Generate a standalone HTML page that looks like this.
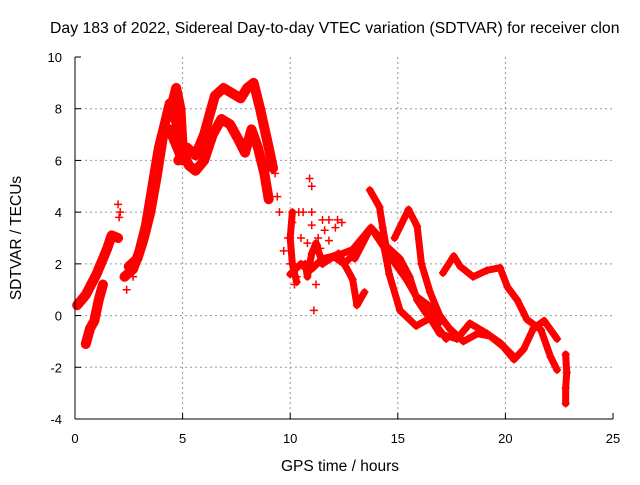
<!DOCTYPE html>
<html><head><meta charset="utf-8"><style>
body{margin:0;background:#fff}
svg text{font-family:"Liberation Sans",sans-serif;fill:#000}
</style></head><body>
<svg id="c" width="640" height="480">
<text x="50" y="33" font-size="15.8">Day 183 of 2022, Sidereal Day-to-day VTEC variation (SDTVAR) for receiver clon</text>
<text transform="translate(21,238) rotate(-90)" text-anchor="middle" font-size="15.5">SDTVAR / TECUs</text>
<text x="340" y="471" text-anchor="middle" font-size="15.5">GPS time / hours</text>
<g id="grid"></g><g id="ticks"></g><g id="marks"></g>
<line x1="75" y1="57" x2="75" y2="419" stroke="#000"/>
<line x1="75" y1="419" x2="613" y2="419" stroke="#000"/>
</svg>
<script>
const xTicks=[0,5,10,15,20,25];
const yTicks=[-4,-2,0,2,4,6,8,10];
const trackA=[[0.1,0.4],[0.5,0.8],[1.0,1.6],[1.3,2.2],[1.5,2.6],[1.7,3.1],[2.0,3.0]];
const trackB=[[0.5,-1.1],[0.7,-0.5],[0.9,-0.2],[1.1,0.6],[1.3,1.2]];
const trackC=[[2.3,1.5],[2.7,1.8],[3.0,2.5],[3.3,3.5],[3.6,5.0],[3.9,6.5],[4.2,7.5],[4.4,8.2],[4.7,7.5],[5.0,6.3],[5.3,5.8],[5.6,5.6],[6.0,6.0],[6.4,7.0],[6.8,7.6],[7.2,7.4],[7.6,6.8],[7.9,6.3],[8.2,7.2],[8.5,6.5],[8.8,5.5],[9.0,4.5]];
const trackD=[[4.8,6.0],[5.2,6.5],[5.6,6.2],[6.0,7.0],[6.5,8.5],[6.9,8.8],[7.3,8.6],[7.7,8.4],[8.0,8.8],[8.3,9.0],[8.6,8.0],[9.0,6.5],[9.2,5.7]];
const trackE=[[4.4,7.8],[4.7,8.8],[4.9,8.0],[5.0,6.5]];
const trackN=[[2.5,1.9],[2.9,2.2],[3.2,3.0],[3.5,4.0],[3.8,5.4],[4.1,7.0],[4.4,7.2],[4.7,6.6],[5.0,6.0]];
const trackF=[[13.7,4.85],[14.15,4.2],[14.3,3.4],[14.45,2.7],[15.1,2.2],[15.55,1.5],[15.9,0.6],[16.3,0.1],[16.8,-0.4],[17.25,-0.9]];
const trackG=[[14.85,3.0],[15.5,4.1],[15.9,3.45],[16.1,2.0],[16.5,0.9],[16.95,0.0],[17.4,-0.5],[18.05,-1.0],[18.7,-0.7],[19.3,-0.8],[19.9,-1.2],[20.4,-1.7],[20.85,-1.3],[21.3,-0.5],[21.8,-0.2],[22.4,-0.9]];
const trackH=[[17.1,1.65],[17.6,2.3],[17.9,1.9],[18.5,1.5],[19.15,1.75],[19.75,1.85],[20.1,1.1],[20.55,0.6],[21.0,-0.15],[21.65,-0.55],[22.1,-1.6],[22.4,-2.1]];
const trackI=[[11.5,2.0],[12.25,2.4],[12.9,1.4],[13.1,0.4],[13.45,0.9]];
const trackJ=[[11.8,2.2],[12.9,2.55],[13.75,3.4],[14.3,2.9],[14.6,1.6],[15.1,0.2],[15.85,-0.4],[16.5,-0.1],[16.95,-0.7],[17.75,-0.9],[18.35,-0.3],[19.15,-0.7],[19.75,-1.05],[20.4,-1.6]];
const trackK=[[13.0,2.2],[13.75,3.4],[14.75,2.15],[15.4,1.4],[15.85,0.75],[16.5,0.35],[16.9,-0.3]];
const trackL=[[10.0,1.6],[10.5,2.0],[11.0,1.8],[11.5,2.2],[12.0,2.3],[12.5,2.0],[13.0,2.4]];
const trackO=[[10.1,4.0],[10.0,3.0],[10.1,2.0],[10.3,1.3]];
const trackP=[[10.7,2.0],[10.8,1.5],[11.0,2.4],[11.2,2.8],[11.5,2.0]];
const trackM=[[22.8,-1.5],[22.85,-2.2],[22.8,-2.8],[22.8,-3.4]];
const scatter=[[2.0,4.3],[2.05,3.8],[2.1,4.0],[2.6,2.0],[2.7,1.5],[2.4,1.0],[9.3,5.5],[9.5,4.0],[9.4,4.6],[9.7,2.5],[9.9,3.0],[10.0,2.0],[10.1,3.6],[10.4,4.0],[10.6,4.0],[10.9,5.3],[11.0,5.0],[11.0,3.5],[10.8,2.8],[11.2,1.2],[11.1,0.2],[11.3,3.0],[11.5,3.7],[11.8,3.7],[12.2,3.7],[12.1,3.4],[10.3,1.5],[10.2,1.2],[10.7,1.8],[11.4,2.6],[11.6,3.3],[11.8,2.9],[12.4,3.6],[11.0,4.0],[10.5,3.0]];
const X=t=>75+t*21.52, Y=v=>57+(10-v)*25.857;
const NS='http://www.w3.org/2000/svg';
const mk=(tag,attrs,parent)=>{const e=document.createElementNS(NS,tag);for(const k in attrs)e.setAttribute(k,attrs[k]);parent.appendChild(e);return e;};
const grid=document.getElementById('grid'),ticks=document.getElementById('ticks'),marks=document.getElementById('marks');
xTicks.forEach(t=>{
 if(t>0&&t<25){const g=mk('line',{x1:X(t),x2:X(t),y1:57,y2:419,stroke:'#999','stroke-dasharray':'2,3'},grid);
 
 }
 const l=mk('line',{x1:X(t),x2:X(t),y1:419,y2:413,stroke:'#000'},ticks);
 
 
 const tx=mk('text',{x:X(t),y:443,'text-anchor':'middle','font-size':'13'},ticks);tx.textContent=t;
 
 
});
yTicks.forEach(v=>{
 if(v>-4&&v<10){const g=mk('line',{x1:75,x2:613,y1:Y(v),y2:Y(v),stroke:'#999','stroke-dasharray':'2,3'},grid);
 
 }
 const l=mk('line',{x1:75,x2:81,y1:Y(v),y2:Y(v),stroke:'#000'},ticks);
 
 
 const tx=mk('text',{x:62,y:Y(v)+5,'text-anchor':'end','font-size':'13'},ticks);tx.textContent=v;
 
 
});
const plus=(t,v)=>`M${X(t)-4},${Y(v)}h8M${X(t)},${Y(v)-4}v8`;
const thick=[trackA,trackB,trackC,trackD,trackE,trackN];
[trackA,trackB,trackC,trackD,trackE,trackN,trackF,trackG,trackH,trackI,trackJ,trackK,trackL,trackO,trackP,trackM].forEach(tr=>{
 const w=thick.includes(tr)?10:7;
 const p=mk('polyline',{points:tr.map(d=>X(d[0])+','+Y(d[1])).join(' '),fill:'none',stroke:'#f00','stroke-width':w,'stroke-linejoin':'round','stroke-linecap':'round'},marks);
 
 
 const m=mk('path',{d:tr.map(d=>plus(d[0],d[1])).join(''),stroke:'#f00','stroke-width':1.5},marks);
 
 
});
const s=mk('path',{d:scatter.map(d=>plus(d[0],d[1])).join(''),stroke:'#f00','stroke-width':1.5},marks);


</script>
</body></html>
